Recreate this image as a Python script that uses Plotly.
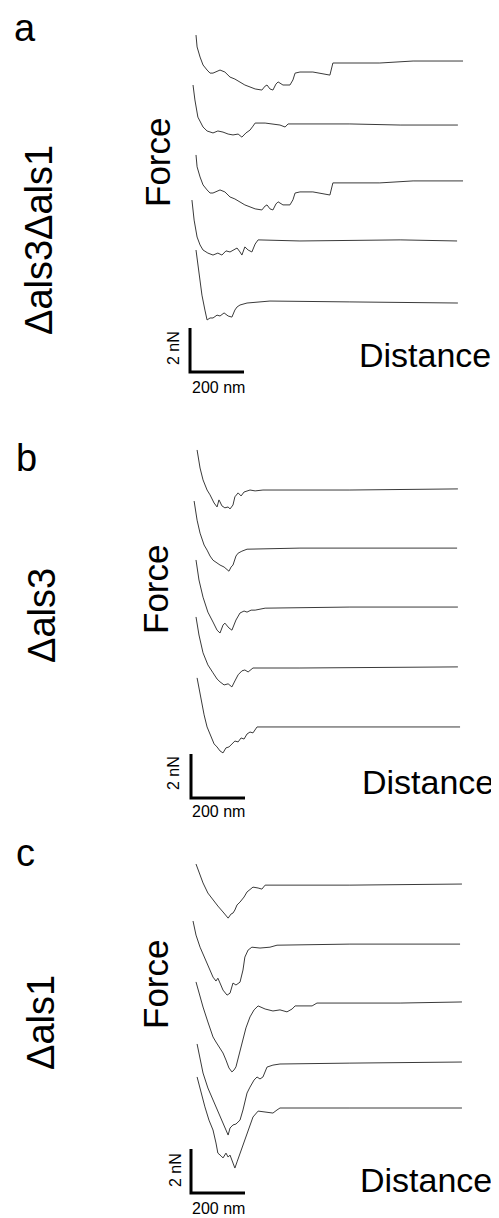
import plotly.graph_objects as go

# ---------------- data (distance in nm, force in nN relative to each curve's baseline) -------------
# Panel a : Δals3Δals1
a1_d = [0, 4, 15, 26, 41, 52, 63, 89, 107, 126, 144, 163, 181, 200, 219, 244, 256, 263, 274, 285, 296, 304, 322, 348, 359, 367, 385, 433, 478, 496, 507, 681, 804, 989]
a1_f = [1.18, 0.64, 0.18, -0.18, -0.41, -0.55, -0.55, -0.41, -0.5, -0.73, -0.82, -0.95, -1.09, -1.18, -1.27, -1.32, -1.14, -1.09, -1.27, -1.32, -1.05, -0.95, -1.09, -1.09, -0.86, -0.55, -0.5, -0.5, -0.59, -0.64, -0.09, -0.09, 0, 0]
a2_d = [-11, -4, 7, 15, 26, 41, 63, 81, 100, 119, 137, 156, 170, 185, 200, 211, 219, 256, 311, 330, 341, 570, 756, 970]
a2_f = [1.82, 1.14, 0.36, 0.14, -0.09, -0.27, -0.36, -0.27, -0.32, -0.41, -0.45, -0.41, -0.55, -0.36, -0.23, -0.05, 0.09, 0.09, 0, -0.09, 0.05, 0.05, 0, 0]
a3_d = [0, 4, 15, 26, 41, 52, 63, 89, 107, 126, 144, 163, 181, 200, 219, 244, 256, 263, 274, 285, 296, 304, 322, 348, 359, 367, 385, 433, 478, 496, 507, 681, 804, 989]
a3_f = [1.18, 0.64, 0.18, -0.18, -0.41, -0.55, -0.55, -0.41, -0.5, -0.73, -0.82, -0.95, -1.09, -1.18, -1.27, -1.32, -1.14, -1.09, -1.27, -1.32, -1.05, -0.95, -1.09, -1.09, -0.86, -0.55, -0.5, -0.5, -0.59, -0.64, -0.09, -0.09, 0, 0]
a4_d = [-15, -7, 4, 15, 26, 44, 63, 81, 96, 111, 126, 137, 152, 163, 170, 181, 193, 207, 219, 230, 385, 756, 967]
a4_f = [1.86, 0.95, 0.18, -0.18, -0.41, -0.55, -0.64, -0.55, -0.64, -0.45, -0.5, -0.41, -0.32, -0.5, -0.64, -0.27, -0.41, -0.5, -0.14, 0.05, 0, 0.05, 0]
a5_d = [0, 7, 15, 22, 33, 41, 52, 63, 78, 89, 104, 119, 133, 144, 152, 163, 189, 237, 274, 570, 970]
a5_f = [2.41, 1.73, 1.05, 0.36, -0.32, -0.77, -0.68, -0.68, -0.55, -0.59, -0.45, -0.59, -0.64, -0.32, -0.18, -0.09, 0, 0.05, 0.09, 0.05, 0]

# Panel b : Δals3
b1_d = [4, 15, 26, 41, 52, 67, 78, 85, 89, 96, 107, 119, 126, 137, 144, 156, 167, 178, 200, 219, 248, 570, 970]
b1_f = [1.77, 0.95, 0.41, -0.05, -0.27, -0.64, -0.82, -0.5, -0.59, -0.77, -0.86, -0.82, -0.91, -0.73, -0.36, -0.18, -0.32, -0.14, -0.05, -0.09, -0.05, -0.05, 0]
b2_d = [-7, 4, 15, 30, 41, 52, 63, 78, 89, 104, 122, 130, 137, 148, 156, 170, 189, 385, 967]
b2_f = [2.14, 1.27, 0.68, 0.14, -0.09, -0.36, -0.55, -0.68, -0.77, -0.86, -1.05, -0.86, -0.77, -0.36, -0.23, -0.14, -0.05, 0, 0]
b3_d = [0, 11, 26, 44, 63, 78, 89, 100, 107, 122, 133, 148, 163, 178, 189, 204, 219, 256, 570, 970]
b3_f = [2.14, 1.23, 0.45, -0.23, -0.68, -1.05, -1.18, -0.82, -0.73, -0.95, -1.05, -0.59, -0.27, -0.18, -0.23, -0.14, -0.14, -0.05, 0, 0]
b4_d = [0, 11, 26, 44, 63, 78, 89, 104, 119, 133, 144, 156, 170, 181, 193, 211, 385, 970]
b4_f = [2.27, 1.45, 0.64, 0.09, -0.27, -0.55, -0.68, -0.82, -0.77, -0.91, -0.64, -0.36, -0.18, -0.14, -0.23, -0.05, -0.05, 0]
b5_d = [4, 15, 30, 41, 56, 67, 78, 89, 100, 111, 122, 133, 144, 156, 167, 178, 189, 200, 211, 226, 570, 978]
b5_f = [2.23, 1.45, 0.55, 0, -0.45, -0.77, -0.91, -1.09, -1.18, -0.95, -0.91, -0.77, -0.64, -0.68, -0.5, -0.55, -0.32, -0.23, -0.27, 0, 0, 0]

# Panel c : Δals1
c1_d = [0, 15, 26, 44, 63, 81, 100, 111, 119, 130, 137, 144, 152, 163, 178, 189, 200, 211, 230, 244, 256, 570, 985]
c1_f = [0.91, 0.41, 0.05, -0.41, -0.73, -1.0, -1.27, -1.41, -1.55, -1.36, -1.32, -1.18, -0.95, -0.82, -0.59, -0.36, -0.23, -0.14, -0.18, -0.23, -0.05, -0.05, 0]
c2_d = [-11, 0, 15, 30, 41, 52, 63, 74, 81, 89, 100, 115, 126, 137, 148, 163, 174, 181, 193, 207, 237, 274, 300, 570, 978]
c2_f = [1.05, 0.41, -0.14, -0.59, -0.86, -1.18, -1.5, -1.68, -1.55, -1.77, -2.09, -2.32, -2.23, -1.77, -1.86, -1.73, -1.18, -0.59, -0.27, -0.14, -0.18, -0.14, -0.05, 0, 0]
c3_d = [0, 11, 26, 44, 63, 74, 89, 100, 111, 122, 133, 141, 148, 152, 163, 174, 185, 200, 215, 230, 256, 285, 311, 337, 356, 367, 404, 430, 448, 756, 985]
c3_f = [0.91, 0.41, -0.23, -0.91, -1.59, -1.82, -2.09, -2.32, -2.64, -3.0, -3.18, -3.09, -2.95, -2.77, -2.18, -1.73, -1.18, -0.68, -0.36, -0.18, -0.32, -0.41, -0.36, -0.45, -0.32, -0.18, -0.18, -0.18, -0.05, -0.05, 0]
c4_d = [4, 15, 26, 44, 63, 81, 100, 111, 119, 126, 137, 148, 163, 174, 189, 200, 215, 226, 237, 248, 263, 285, 311, 570, 985]
c4_f = [0.82, 0.18, -0.5, -1.18, -1.73, -2.27, -2.77, -3.09, -3.32, -3.0, -2.86, -2.82, -2.64, -2.18, -1.41, -1.14, -0.82, -0.68, -0.77, -0.68, -0.23, -0.14, -0.09, -0.05, 0]
c5_d = [4, 19, 33, 48, 63, 74, 81, 93, 100, 111, 119, 126, 133, 144, 152, 163, 174, 189, 200, 211, 230, 256, 285, 300, 311, 570, 985]
c5_f = [1.41, 0.68, 0.05, -0.55, -1.0, -1.59, -2.05, -2.18, -2.27, -2.05, -2.23, -2.14, -2.36, -2.73, -2.45, -2.05, -1.68, -1.14, -0.77, -0.41, -0.14, -0.18, -0.23, -0.09, 0, 0, 0]

panels = ["a", "b", "c"]
strains = ["\u0394als3\u0394als1", "\u0394als3", "\u0394als1"]
curves = [
    [(a1_d, a1_f), (a2_d, a2_f), (a3_d, a3_f), (a4_d, a4_f), (a5_d, a5_f)],
    [(b1_d, b1_f), (b2_d, b2_f), (b3_d, b3_f), (b4_d, b4_f), (b5_d, b5_f)],
    [(c1_d, c1_f), (c2_d, c2_f), (c3_d, c3_f), (c4_d, c4_f), (c5_d, c5_f)],
]
# vertical stacking offsets of each curve (nN)
offsets = [
    [52.59, 49.68, 47.14, 44.41, 41.59],
    [33.14, 30.45, 27.77, 25.05, 22.32],
    [15.18, 12.45, 9.82, 7.09, 5.0],
]
scale_nm = 200
scale_nN = 2
scale_labels_x = "200 nm"
scale_labels_y = "2 nN"

# ---------------- layout constants -------------
W, H = 499, 1218
SH = 8  # page body margin shift
NM_PER_PX = 200 / 54.0
NN_PER_PX = 2 / 44.0
X0_PX = 196 - SH
x_range = [-X0_PX * NM_PER_PX, (W - X0_PX) * NM_PER_PX]
y_range = [-SH * NN_PER_PX, (H - SH) * NN_PER_PX]
bar_origin = [(-22.2, 38.45), (-18.5, 19.09), (-18.5, 1.14)]

FONT = "Liberation Sans, Arial, sans-serif"

fig = go.Figure()
for p in range(3):
    for (d, f), off in zip(curves[p], offsets[p]):
        fig.add_trace(go.Scatter(x=d, y=[v + off for v in f], mode="lines",
                                 line=dict(color="#3a3a3a", width=1), hoverinfo="skip"))
    bx, by = bar_origin[p]
    fig.add_trace(go.Scatter(x=[bx, bx, bx + scale_nm], y=[by + scale_nN, by, by], mode="lines",
                             line=dict(color="black", width=3), hoverinfo="skip"))


def px(x, y):
    return (x - SH) / W, 1 - (y - SH) / H


def ann(text, x, y, size, angle=0):
    xx, yy = px(x, y)
    fig.add_annotation(text=text, x=xx, y=yy, xref="paper", yref="paper",
                       showarrow=False, textangle=angle, xanchor="center", yanchor="middle",
                       font=dict(family=FONT, size=size, color="black"))


letter_pos = [(25, 28), (26, 458), (25, 853)]
strain_pos = [(39, 240), (42, 616), (41, 1023)]
force_pos = [(157, 163), (155, 590), (155, 985)]
dist_pos = [(425, 355), (428, 782), (426, 1180)]
nn_pos = [(173, 348), (173, 773), (175, 1170)]
nm_pos = [(218, 387), (218, 811), (218, 1208)]

for p in range(3):
    ann(panels[p], *letter_pos[p], 38)
    ann(strains[p], *strain_pos[p], 38, -90)
    ann("Force", *force_pos[p], 35, -90)
    ann("Distance", *dist_pos[p], 34)
    ann(scale_labels_y, *nn_pos[p], 16, -90)
    ann(scale_labels_x, *nm_pos[p], 16)

fig.update_layout(
    width=W, height=H, margin=dict(l=0, r=0, t=0, b=0),
    paper_bgcolor="white", plot_bgcolor="white", showlegend=False,
    xaxis=dict(range=x_range, visible=False, fixedrange=True),
    yaxis=dict(range=y_range, visible=False, fixedrange=True),
)
fig.write_html("out.html", config={"displayModeBar": False})
